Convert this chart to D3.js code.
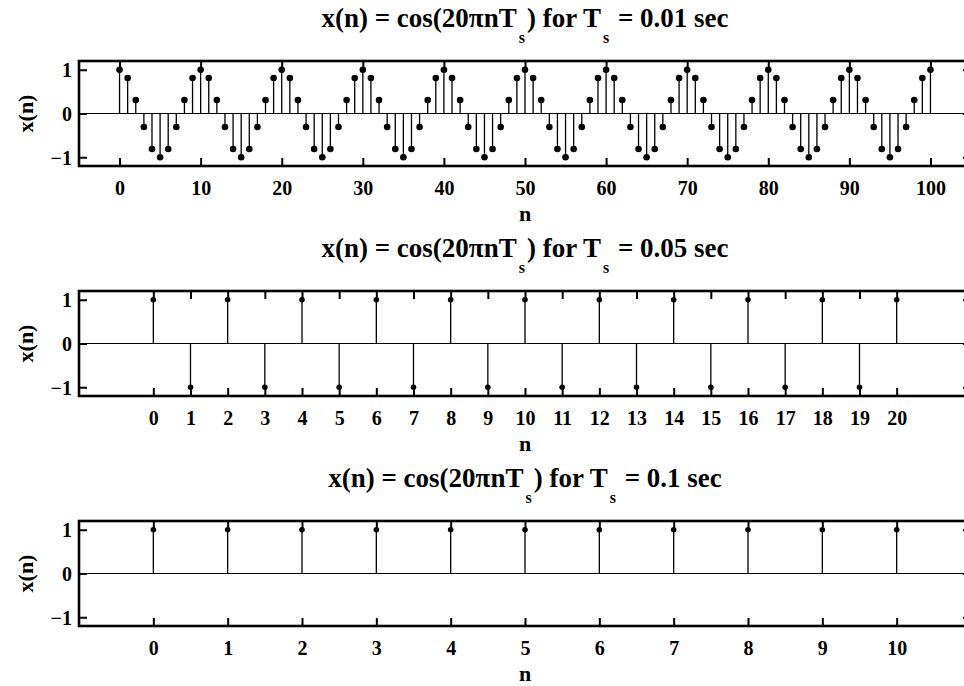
<!DOCTYPE html>
<html>
<head>
<meta charset="utf-8">
<script src="https://cdn.jsdelivr.net/npm/d3@7"></script>
<style>
  body { margin: 0; background: #fff; }
  svg { display: block; }
</style>
</head>
<body>
<svg width="964" height="686"></svg>
<script>
// values
var n1 = d3.range(0, 101);
var x1 = [1, 0.81, 0.31, -0.31, -0.81, -1, -0.81, -0.31, 0.31, 0.81,
          1, 0.81, 0.31, -0.31, -0.81, -1, -0.81, -0.31, 0.31, 0.81,
          1, 0.81, 0.31, -0.31, -0.81, -1, -0.81, -0.31, 0.31, 0.81,
          1, 0.81, 0.31, -0.31, -0.81, -1, -0.81, -0.31, 0.31, 0.81,
          1, 0.81, 0.31, -0.31, -0.81, -1, -0.81, -0.31, 0.31, 0.81,
          1, 0.81, 0.31, -0.31, -0.81, -1, -0.81, -0.31, 0.31, 0.81,
          1, 0.81, 0.31, -0.31, -0.81, -1, -0.81, -0.31, 0.31, 0.81,
          1, 0.81, 0.31, -0.31, -0.81, -1, -0.81, -0.31, 0.31, 0.81,
          1, 0.81, 0.31, -0.31, -0.81, -1, -0.81, -0.31, 0.31, 0.81,
          1, 0.81, 0.31, -0.31, -0.81, -1, -0.81, -0.31, 0.31, 0.81,
          1];
var n2 = d3.range(0, 21);
var x2 = [1, -1, 1, -1, 1, -1, 1, -1, 1, -1, 1, -1, 1, -1, 1, -1, 1, -1, 1, -1, 1];
var n3 = d3.range(0, 11);
var x3 = [1, 1, 1, 1, 1, 1, 1, 1, 1, 1, 1];

var xTicks1 = [0, 10, 20, 30, 40, 50, 60, 70, 80, 90, 100];
var xTicks2 = d3.range(0, 21);
var xTicks3 = d3.range(0, 11);
var yTicks = [-1, 0, 1];
var tsLabels = ["0.01", "0.05", "0.1"];

var FONT = "'Liberation Serif', 'Times New Roman', serif";

var panels = [
  {n: n1, v: x1, dom: [-5, 105], ticks: xTicks1, ts: tsLabels[0], top: 61, r: 3.3},
  {n: n2, v: x2, dom: [-2, 22], ticks: xTicks2, ts: tsLabels[1], top: 291, r: 2.8},
  {n: n3, v: x3, dom: [-1, 11], ticks: xTicks3, ts: tsLabels[2], top: 521, r: 2.8}
];

var svg = d3.select("svg");
svg.append("rect").attr("width", 964).attr("height", 686).attr("fill", "#fff");
var left = 79, right = 971, ph = 105, tickLen = 8;

panels.forEach(function(p) {
  var x = d3.scaleLinear().domain(p.dom).range([left, right]);
  var y = d3.scaleLinear().domain([-1.2, 1.2]).range([p.top + ph, p.top]);
  var g = svg.append("g").attr("font-family", FONT).attr("font-weight", "bold");

  // zero line
  g.append("line")
    .attr("x1", left).attr("x2", right)
    .attr("y1", y(0)).attr("y2", y(0))
    .attr("stroke", "#000").attr("stroke-width", 1.2);

  // stems
  g.selectAll(".stem").data(p.n).enter().append("line")
    .attr("x1", function(d) { return x(d); })
    .attr("x2", function(d) { return x(d); })
    .attr("y1", y(0))
    .attr("y2", function(d, i) { return y(p.v[i]); })
    .attr("stroke", "#000").attr("stroke-width", 1.3);

  g.selectAll(".dot").data(p.n).enter().append("circle")
    .attr("cx", function(d) { return x(d); })
    .attr("cy", function(d, i) { return y(p.v[i]); })
    .attr("r", p.r).attr("fill", "#000");

  // axes, ticks inward
  var bx = g.append("g").attr("transform", "translate(0," + (p.top + ph) + ")")
    .call(d3.axisBottom(x).tickValues(p.ticks).tickSize(tickLen));
  var tx = g.append("g").attr("transform", "translate(0," + p.top + ")")
    .call(d3.axisTop(x).tickValues(p.ticks).tickSize(tickLen).tickFormat(""));
  var ly = g.append("g").attr("transform", "translate(" + left + ",0)")
    .call(d3.axisLeft(y).tickValues(yTicks).tickSize(tickLen));
  var ry = g.append("g").attr("transform", "translate(" + right + ",0)")
    .call(d3.axisRight(y).tickValues(yTicks).tickSize(tickLen).tickFormat(""));
  [bx, tx, ly, ry].forEach(function(a) {
    a.attr("font-family", FONT).attr("font-size", 20).attr("font-weight", "bold");
    a.select(".domain").remove();
    a.selectAll(".tick line").attr("stroke", "#000").attr("stroke-width", 2);
    a.selectAll(".tick text").attr("fill", "#000");
  });
  bx.selectAll(".tick line").attr("y2", -tickLen);
  tx.selectAll(".tick line").attr("y2", tickLen);
  ly.selectAll(".tick line").attr("x2", tickLen);
  ry.selectAll(".tick line").attr("x2", -tickLen);
  bx.selectAll(".tick text").attr("y", 29).attr("dy", null);
  ly.selectAll(".tick text").attr("x", -7).attr("dy", "0.35em")
    .text(function(d) { return d < 0 ? "\u2212" + Math.abs(d) : d; });

  // box
  g.append("rect")
    .attr("x", left).attr("y", p.top).attr("width", right - left).attr("height", ph)
    .attr("fill", "none").attr("stroke", "#000").attr("stroke-width", 2.6);

  // labels
  g.append("text").attr("x", (left + right) / 2).attr("y", p.top + ph + 55)
    .attr("text-anchor", "middle").attr("font-size", 22).text("n");
  g.append("text")
    .attr("transform", "translate(33," + (p.top + ph / 2) + ") rotate(-90)")
    .attr("text-anchor", "middle").attr("font-size", 22).text("x(n)");

  var t = g.append("text").attr("x", (left + right) / 2).attr("y", p.top - 34)
    .attr("text-anchor", "middle").attr("font-size", 27);
  t.append("tspan").text("x(n) = cos(20\u03c0nT");
  t.append("tspan").attr("dy", 16).attr("dx", 2).attr("font-size", 16).text("s");
  t.append("tspan").attr("dy", -16).attr("dx", 2).text(") for T");
  t.append("tspan").attr("dy", 16).attr("dx", 2).attr("font-size", 16).text("s");
  t.append("tspan").attr("dy", -16).attr("dx", 2).text(" = " + p.ts + " sec");
});
</script>
</body>
</html>
